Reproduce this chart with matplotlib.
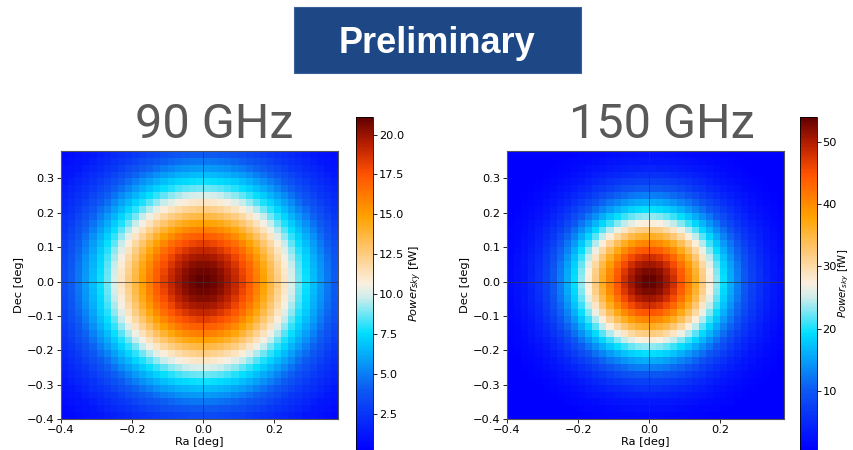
import numpy as np
import matplotlib
matplotlib.use("Agg")
import matplotlib.pyplot as plt
from matplotlib.colors import LinearSegmentedColormap
from matplotlib.patches import Rectangle

# ---- data ----
# radial profile of sky power (fW) vs distance from beam centre (deg)
radius_deg = [0.00, 0.02, 0.04, 0.06, 0.08, 0.10, 0.12, 0.14, 0.16, 0.18,
              0.20, 0.22, 0.24, 0.26, 0.28, 0.30, 0.32, 0.34, 0.36, 0.38,
              0.40, 0.42, 0.44, 0.46, 0.48, 0.50, 0.52, 0.54, 0.56, 0.58]
power_90 = [21.1, 21.0, 20.7, 20.2, 19.5, 18.7, 17.7, 16.7, 15.5, 14.3,
            13.0, 11.8, 10.6, 9.4, 8.2, 7.2, 6.2, 5.3, 4.4, 3.7,
            3.1, 2.5, 2.1, 1.7, 1.3, 1.05, 0.82, 0.63, 0.49, 0.37]
power_150 = [54.0, 53.5, 52.0, 49.7, 46.6, 42.8, 38.6, 34.3, 29.9, 25.5,
             21.4, 17.6, 14.2, 11.3, 8.8, 6.7, 5.0, 3.7, 2.7, 1.9,
             1.3, 0.91, 0.61, 0.40, 0.26, 0.17, 0.10, 0.07, 0.04, 0.03]
grid_edges = [-0.40 + 0.02 * i for i in range(40)]   # pixel edges, deg
titles = ["90 GHz", "150 GHz"]
cbar_ranges = [(0.25, 21.1), (0.5, 54.0)]
cbar_ticks = [[2.5, 5.0, 7.5, 10.0, 12.5, 15.0, 17.5, 20.0],
              [10, 20, 30, 40, 50]]
x_ticks = [-0.4, -0.2, 0.0, 0.2]
y_ticks = [-0.4, -0.3, -0.2, -0.1, 0.0, 0.1, 0.2, 0.3]

cmap = LinearSegmentedColormap.from_list("beam", [
    (0.00, (0.00, 0.00, 1.00)),
    (0.18, (0.05, 0.35, 0.95)),
    (0.35, (0.00, 0.87, 1.00)),
    (0.46, (0.82, 0.93, 0.92)),
    (0.50, (0.98, 0.94, 0.88)),
    (0.60, (1.00, 0.78, 0.45)),
    (0.70, (1.00, 0.64, 0.00)),
    (0.83, (1.00, 0.32, 0.00)),
    (0.92, (0.72, 0.12, 0.00)),
    (1.00, (0.38, 0.00, 0.00)),
])

W, H = 854, 450
fig = plt.figure(figsize=(W / 100, H / 100), dpi=100)

def fx(px):
    return px / W

def fy(py):
    return 1 - py / H

# Preliminary banner
fig.patches.append(Rectangle((fx(294), fy(73)), fx(581) - fx(294), fy(7) - fy(73),
                             transform=fig.transFigure, facecolor="#1e4785",
                             edgecolor="#3a5f9a", lw=0.8))
fig.text(fx(437.5), fy(53), "Preliminary", color="white", fontsize=26,
         fontweight="bold", family="Liberation Sans", ha="center", va="baseline")

edges = np.array(grid_edges)
centres = edges[:-1] + 0.01
XX, YY = np.meshgrid(centres, centres)
RR = np.sqrt(XX ** 2 + YY ** 2)

ax_left = [61, 507]
cb_left = [356, 800]
title_x = [214, 662]
label_pad = [2, 0.0]
label_size = [8.2, 7.3]
cb_tick_pad = [1.5, 1.0]
profiles = [power_90, power_150]

for k in range(2):
    Z = np.interp(RR, radius_deg, profiles[k])
    ax = fig.add_axes([fx(ax_left[k]), fy(419), fx(277), (419 - 151) / H])
    vmin, vmax = cbar_ranges[k]
    m = ax.pcolormesh(edges, edges, Z, cmap=cmap, vmin=vmin, vmax=vmax,
                      shading="flat")
    ax.set_xlim(edges[0], edges[-1])
    ax.set_ylim(edges[0], edges[-1])
    ax.axhline(0, color="#333333", lw=0.6, alpha=0.8)
    ax.axvline(0, color="#333333", lw=0.6, alpha=0.8)
    ax.set_xticks(x_ticks)
    ax.set_yticks(y_ticks)
    ax.set_xticklabels([f"{v:.1f}".replace("-", "\u2212") for v in x_ticks])
    ax.set_yticklabels([f"{v:.1f}".replace("-", "\u2212") for v in y_ticks])
    ax.tick_params(labelsize=8.2, length=3, width=0.6, pad=1.5)
    ax.set_xlabel("Ra [deg]", fontsize=8.2, labelpad=1)
    ax.set_ylabel("Dec [deg]", fontsize=8.2, labelpad=2)
    for s in ax.spines.values():
        s.set_color("#555555")
        s.set_linewidth(0.8)

    cax = fig.add_axes([fx(cb_left[k]), 0.0, fx(17), (450 - 117) / H])
    cb = fig.colorbar(m, cax=cax, ticks=cbar_ticks[k])
    if k == 0:
        cb.ax.set_yticklabels([f"{t:.1f}" for t in cbar_ticks[k]])
    cb.ax.tick_params(labelsize=8.2, length=3, width=0.6, pad=cb_tick_pad[k])
    cb.outline.set_linewidth(0.6)
    cb.set_label(r"$Power_{sky}$ [fW]", fontsize=label_size[k],
                 labelpad=label_pad[k])

    fig.text(fx(title_x[k]), fy(138), titles[k], color="#595959", fontsize=35,
             family="Roboto", ha="center", va="baseline")

fig.savefig("out.png", dpi=100)
